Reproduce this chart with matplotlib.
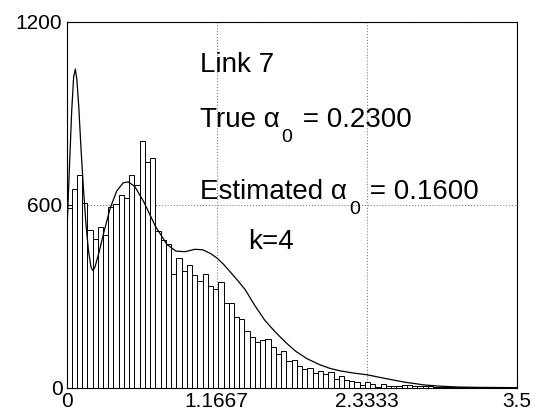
import numpy as np
import matplotlib
matplotlib.use("Agg")
import matplotlib.pyplot as plt
from matplotlib.transforms import IdentityTransform

plt.rcParams['font.family'] = ['Liberation Sans', 'DejaVu Sans']

# histogram counts per bin
counts = [590, 652, 699, 607, 517, 488, 527, 502, 593, 603, 631, 622, 696, 666,
          808, 740, 753, 513, 486, 472, 372, 426, 383,
          404, 368, 350, 372, 332, 323, 347, 279, 277,
          233, 225, 186, 167, 151, 156, 161, 132,
          110, 119, 88, 92, 70, 61, 66, 48, 56, 45, 52, 28,
          37, 25, 23, 17, 9, 17, 12, 3, 12, 6, 6, 5,
          10, 9, 7, 6, 5, 4, 3, 3, 2, 2, 1, 1, 2, 1, 0, 0, 1, 0, 0, 1, 0, 0]
bin_start = -0.002
bin_width = 0.04075

# fitted mixture density (k=4), scaled to counts
fit_x = [0.0, 0.02, 0.04, 0.055, 0.068, 0.08, 0.095, 0.11, 0.13, 0.15, 0.17,
         0.19, 0.205, 0.22, 0.25, 0.29, 0.34, 0.39, 0.44, 0.48, 0.53, 0.60,
         0.69, 0.78, 0.85, 0.92, 1.00, 1.06, 1.12, 1.17, 1.22, 1.27, 1.33,
         1.39, 1.46, 1.54, 1.62, 1.70, 1.78, 1.87, 1.97, 2.05, 2.13, 2.23,
         2.34, 2.48, 2.63, 2.78, 2.90, 3.05, 3.2, 3.5]
fit_y = [480, 700, 910, 1020, 1045, 1010, 920, 800, 660, 540, 450,
         395, 384, 395, 440, 510, 590, 645, 672, 675, 660, 610,
         530, 470, 448, 446, 454, 452, 440, 425, 405, 381, 352,
         321, 272, 222, 184, 150, 120, 95, 75, 63, 55, 48,
         42, 30, 18, 9, 5, 2, 1, 0]

xticks = [0, 1.1667, 2.3333, 3.5]
xticklabels = ["0", "1.1667", "2.3333", "3.5"]
yticks = [0, 600, 1200]

fig = plt.figure(figsize=(5.37, 4.20), dpi=100)
ax = fig.add_axes([0.124, 0.077, 0.838, 0.871])

lefts = bin_start + bin_width * np.arange(len(counts))
ax.bar(lefts, counts, width=bin_width, align="edge", color="white",
       edgecolor="black", linewidth=0.7, zorder=2)
ax.plot(fit_x, fit_y, color="black", linewidth=0.9, zorder=3)

ax.set_xlim(0, 3.5)
ax.set_ylim(0, 1200)
ax.set_xticks(xticks)
ax.set_xticklabels(xticklabels)
ax.set_yticks(yticks)
ax.tick_params(direction="in", labelsize=15, length=4, pad=3)
ax.grid(True, linestyle=":", color="#808080", linewidth=0.8, zorder=1)
ax.set_axisbelow(True)
for s in ax.spines.values():
    s.set_linewidth(0.8)

fs = 20
renderer = fig.canvas.get_renderer()


def sub_label(x, y, pre, sub, post):
    # text with a low MATLAB-style subscript
    t = ax.text(x, y, pre, fontsize=fs, va="baseline", ha="left", zorder=4)
    bx, by = ax.transData.transform((x, y))
    x1 = t.get_window_extent(renderer).x1
    s = ax.text(x1 + 2, by - 15, sub, fontsize=14, va="baseline", ha="left",
                transform=IdentityTransform(), zorder=4)
    x2 = s.get_window_extent(renderer).x1
    ax.text(x2 + 2, by, post, fontsize=fs, va="baseline", ha="left",
            transform=IdentityTransform(), zorder=4)


ax.text(1.037, 1036, "Link 7", fontsize=fs, va="baseline", ha="left", zorder=4)
sub_label(1.037, 855, "True \u03b1", "0", " = 0.2300")
sub_label(1.037, 620, "Estimated \u03b1", "0", " = 0.1600")
ax.text(1.41, 455, "k=4", fontsize=fs, va="baseline", ha="left", zorder=4)

fig.savefig("out.png", dpi=100)
